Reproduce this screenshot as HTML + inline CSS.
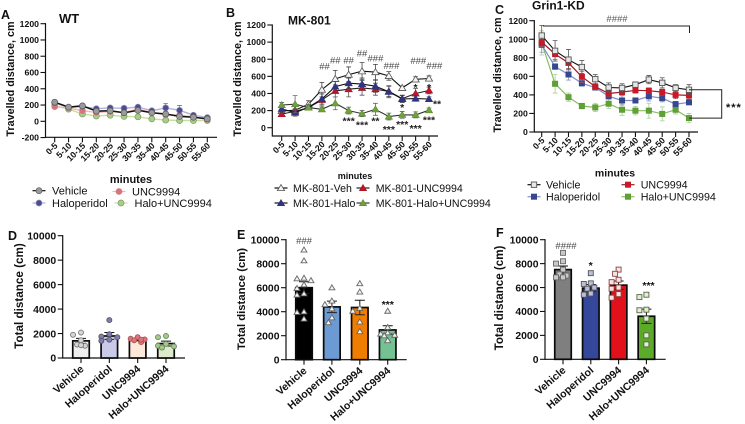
<!DOCTYPE html>
<html lang="en">
<head>
<meta charset="utf-8">
<title>Locomotor activity panels</title>
<style>
html,body{margin:0;padding:0;background:#fff;width:745px;height:424px;overflow:hidden}
svg{display:block;font-family:"Liberation Sans",sans-serif;filter:blur(.3px)}
text{fill:#111}
</style>
</head>
<body>
<svg id="fig" width="745" height="424" viewBox="0 0 745 424" xmlns="http://www.w3.org/2000/svg">
  <rect width="745" height="424" fill="#fff"/>
  <text x="1" y="19" font-size="12.5" font-weight="700">A</text>
  <text x="226" y="17" font-size="12.5" font-weight="700">B</text>
  <text x="495" y="14" font-size="12.5" font-weight="700">C</text>
  <text x="8" y="240" font-size="12.5" font-weight="700">D</text>
  <text x="237" y="239" font-size="12.5" font-weight="700">E</text>
  <text x="496" y="237" font-size="12.5" font-weight="700">F</text>
  <text x="59" y="23" font-size="13" font-weight="700">WT</text>
  <text x="288" y="24.5" font-size="12" font-weight="700">MK-801</text>
  <text x="532" y="9.5" font-size="12" font-weight="700">Grin1-KD</text>
  <text x="131" y="183" font-size="11" font-weight="700" text-anchor="middle">minutes</text>
  <text x="355" y="179" font-size="9" font-weight="700" text-anchor="middle">minutes</text>
  <text x="615" y="176.5" font-size="10.5" font-weight="700" text-anchor="middle">minutes</text>
  <text transform="translate(14 79) rotate(-90)" font-size="10.8" font-weight="700" text-anchor="middle">Travelled distance, cm</text>
  <text transform="translate(241 79) rotate(-90)" font-size="10.8" font-weight="700" text-anchor="middle">Travelled distance, cm</text>
  <text transform="translate(501 75) rotate(-90)" font-size="10.8" font-weight="700" text-anchor="middle">Travelled distance, cm</text>
  <text transform="translate(23 296) rotate(-90)" font-size="11.7" font-weight="700" text-anchor="middle">Total distance (cm)</text>
  <text transform="translate(245 299) rotate(-90)" font-size="11.3" font-weight="700" text-anchor="middle">Total distance (cm)</text>
  <text transform="translate(503 298) rotate(-90)" font-size="11.6" font-weight="700" text-anchor="middle">Total distance (cm)</text>
  <path d="M543 26H689.5V33" fill="none" stroke="#222" stroke-width="1"/>
  <text x="617" y="22" font-size="9.5" text-anchor="middle" style="fill:#555">####</text>
  <text x="726" y="111" font-size="11" font-weight="700" letter-spacing="1">***</text>
</svg>
<script>
const timeBins = ['0-5','5-10','10-15','15-20','20-25','25-30','30-35','35-40','40-45','45-50','50-55','55-60'];
const lineTicks = [1200,1000,800,600,400,200,0];
const lineTicksA = [1200,1000,800,600,400,200,0,-200];
const barTicks = [10000,8000,6000,4000,2000,0];
const barGroups = ['Vehicle','Haloperidol','UNC9994','Halo+UNC9994'];

const wtVehicle = [235,175,190,125,130,105,135,105,90,60,50,30];
const wtHalo = [225,170,180,155,165,160,175,130,165,135,75,45];
const wtUnc = [180,165,130,110,120,110,150,110,80,75,55,25];
const wtHaloUnc = [190,150,90,65,75,60,55,30,15,10,10,10];
const wtVehicleErr = [25,15,20,20,20,20,20,20,25,20,15,15];
const wtHaloErr = [20,15,20,20,20,25,20,20,55,60,20,15];
const wtUncErr = [20,15,20,20,20,20,20,20,20,15,15,10];
const wtHaloUncErr = [15,15,15,15,15,15,15,15,10,10,10,10];

const mkVeh = [195,205,275,445,570,620,660,650,605,465,565,575];
const mkHalo = [220,175,240,335,480,520,510,485,420,335,340,335];
const mkUnc = [160,190,235,325,430,450,465,450,425,340,400,435];
const mkHaloUnc = [265,275,235,215,285,200,165,215,130,150,150,205];
const mkVehErr = [60,50,40,85,100,90,100,90,50,20,30,30];
const mkHaloErr = [40,40,30,60,60,60,70,70,70,40,30,25];
const mkUncErr = [30,30,30,70,70,90,85,70,60,40,60,40];
const mkHaloUncErr = [30,100,30,25,75,40,35,70,40,40,35,25];

const kdVehicle = [1040,875,780,700,570,480,475,510,565,530,475,455];
const kdHalo = [940,705,620,525,480,385,340,340,385,365,300,320];
const kdUnc = [970,840,745,595,490,415,430,450,445,430,400,395];
const kdHaloUnc = [960,520,375,280,265,305,240,230,230,195,240,150];
const kdVehicleErr = [110,110,110,70,50,50,45,30,45,55,35,55];
const kdHaloErr = [80,30,60,30,25,30,50,20,50,40,30,25];
const kdUncErr = [50,60,60,60,30,30,30,30,30,30,40,40];
const kdHaloUncErr = [130,100,45,30,45,50,60,45,80,75,45,50];

const mkSigLabels = ['##','##','##','##','###','###','###','###','***','***','**','***','***','***','***','*','*','*','**'];
const mkSigCats = [3.2,4,5,6,7,8.2,10.2,11.4,5,6,7,8,9,10,11,9,10,11,11.6];
const mkSigVals = [720,790,790,870,810,725,780,725,110,60,110,10,65,20,120,265,500,500,305];

const totalWtMeans = [1400,1800,1480,1180];
const totalWtErr = [200,280,80,200];
const totalWtPts = [[2080,1900,1450,1100,1000,1050],[3100,1950,1750,1700,1500,1400],[1700,1580,1520,1450,1300,1500],[1800,1700,1150,1000,950,850]];
const totalMkMeans = [6000,4400,4350,2480];
const totalMkErr = [500,480,600,350];
const totalMkPts = [[9150,8250,6800,6750,6600,6250,5950,5500,5400,4000,3950,3400],[6000,4900,4600,4250,3500,3100],[6350,5650,4300,4050,3150,2350],[4050,2700,2250,2150,2050,2000,1600]];
const totalKdMeans = [7500,5950,6200,3600];
const totalKdErr = [300,300,350,600];
const totalKdPts = [[8900,8200,8000,7500,7100,7000,6850,6850],[7200,6350,6300,6000,5900,5500,5400],[7500,7150,6650,6450,6000,5900,5450,5150],[5400,5200,4150,4100,3400,2000,1250]];

const wtLegend = ['Vehicle','Haloperidol','UNC9994','Halo+UNC9994'];
const mkLegend = ['MK-801-Veh','MK-801-Halo','MK-801-UNC9994','MK-801-Halo+UNC9994'];

const NS = 'http://www.w3.org/2000/svg';
const fig = document.getElementById('fig');
function mk(tag, attrs, parent) {
  const e = document.createElementNS(NS, tag);
  for (const k in attrs) e.setAttribute(k, attrs[k]);
  (parent || fig).appendChild(e);
  return e;
}
function drawMarker(shape, x, y, size, fill, stroke, sw) {
  let m;
  if (shape === 'circle') {
    m = mk('circle', {cx:x, cy:y, r:size, fill:fill, stroke:stroke, 'stroke-width':sw});
  } else if (shape === 'square') {
    m = mk('rect', {x:x-size, y:y-size, width:size*2, height:size*2, fill:fill, stroke:stroke, 'stroke-width':sw});
  } else {
    m = mk('path', {d:`M${x} ${y-size*1.05}L${x+size*1.1} ${y+size*.8}H${x-size*1.1}Z`, fill:fill, stroke:stroke, 'stroke-width':sw});
  }
  
  
  return m;
}
function drawAxes(g, ticks, fmtSize) {
  const yAxis = mk('line', {x1:g.axisX, x2:g.axisX, y1:g.sy(ticks[0])-.6, y2:g.axisY+.6, stroke:'#111', 'stroke-width':1.2});
  
  
  const xAxis = mk('line', {x1:g.axisX, x2:g.endX, y1:g.axisY, y2:g.axisY, stroke:'#111', 'stroke-width':1.2});
  
  
  ticks.forEach(t => {
    const y = g.sy(t);
    const tick = mk('line', {x1:g.axisX-5, x2:g.axisX, y1:y, y2:y, stroke:'#111', 'stroke-width':1.1});
    
    
    const lab = mk('text', {x:g.axisX-6.5, y:y+fmtSize*.36, 'font-size':fmtSize, 'font-weight':700, 'text-anchor':'end'});
    lab.textContent = t;
    
    
  });
}
function drawXLabels(g, labels, cx, size, angle, dx, dy) {
  labels.forEach((l, i) => {
    const x = cx(i);
    const tick = mk('line', {x1:x, x2:x, y1:g.axisY, y2:g.axisY+5, stroke:'#111', 'stroke-width':1.1});
    
    
    const lab = mk('text', {transform:`translate(${x+dx} ${g.axisY+dy}) rotate(${angle})`, 'font-size':size, 'font-weight':700, 'text-anchor':'end'});
    lab.textContent = l;
    
    
  });
}
function drawSeries(g, s, cx) {
  const pts = s.values.map((v, i) => `${cx(i).toFixed(1)},${g.sy(v).toFixed(1)}`).join(' ');
  s.values.forEach((v, i) => {
    const x = cx(i), hi = g.sy(v + s.err[i]), lo = g.sy(v - s.err[i]);
    const eb = mk('path', {d:`M${x-2.4} ${hi}H${x+2.4}M${x} ${hi}V${lo}M${x-2.4} ${lo}H${x+2.4}`, fill:'none', stroke:s.errColor, 'stroke-width':.8});
    
    
  });
  const line = mk('polyline', {points:pts, fill:'none', stroke:s.lineColor, 'stroke-width':s.lineW});
  
  
  s.values.forEach((v, i) => drawMarker(s.shape, cx(i), g.sy(v), s.size, s.fill, s.stroke, s.sw));
}
function drawLegendEntry(s, label, x, tx, y, size) {
  const seg = mk('line', {x1:x-6.5, x2:x+6.5, y1:y, y2:y, stroke:s.lineColor, 'stroke-width':1.2});
  
  
  drawMarker(s.shape, x, y, s.size, s.fill, s.stroke, s.sw);
  const t = mk('text', {x:tx, y:y+size*.36, 'font-size':size});
  t.textContent = label;
  
  
}
function linearGeom(axisX, endX, yZero, yTop, vTop, axisY, first, last) {
  return {axisX, endX, axisY, sy: v => yZero - v*(yZero-yTop)/vTop, first, last};
}
function linePanel(g, ticks, series, size) {
  const cx = i => g.first + i*(g.last-g.first)/(timeBins.length-1);
  drawAxes(g, ticks, size);
  drawXLabels(g, timeBins, cx, size, -45, 3.5, 9);
  series.forEach(s => drawSeries(g, s, cx));
  return cx;
}
function style(values, err, shape, size, fill, stroke, lineColor, errColor, lineW, sw) {
  return {values, err, shape, size, fill, stroke, lineColor, errColor, lineW, sw};
}

/* Panel A */
const gA = linearGeom(45.5,217,121.3,23.7,1200,137.3,54.7,207.3);
const aVeh = style(wtVehicle,wtVehicleErr,'circle',3,'#9a9a9c','#555','#111','#555',1.5,.7);
const aHalo = style(wtHalo,wtHaloErr,'circle',3,'#4d4c8e','#8d8bb8','#b4b0dc','#7673a8',1.4,.7);
const aUnc = style(wtUnc,wtUncErr,'circle',3,'#d9727a','#c88','#f2b6ae','#d99',1.4,.7);
const aHU = style(wtHaloUnc,wtHaloUncErr,'circle',3,'#a9cc8b','#7d9a60','#c6df9c','#a5c58a',1.4,.7);
linePanel(gA, lineTicksA, [aHU,aUnc,aHalo,aVeh], 8.7);
drawLegendEntry(aVeh, wtLegend[0], 39, 52, 190.7, 11);
drawLegendEntry(aHalo, wtLegend[1], 39, 52, 203, 11);
drawLegendEntry(aUnc, wtLegend[2], 119, 132, 191.5, 11);
drawLegendEntry(aHU, wtLegend[3], 121, 134.5, 203, 11);

/* Panel B */
const gB = linearGeom(272.3,438,127.7,25,1200,136,281.7,429);
const bVeh = style(mkVeh,mkVehErr,'tri',3.3,'#f4f4f4','#555','#111','#444',1.1,.8);
const bHalo = style(mkHalo,mkHaloErr,'tri',3.3,'#2f3483','#2f3483','#111','#444',1.1,.6);
const bUnc = style(mkUnc,mkUncErr,'tri',3.3,'#c3142a','#a01525','#222','#555',1.1,.6);
const bHU = style(mkHaloUnc,mkHaloUncErr,'tri',3.3,'#70a23c','#5d8a30','#333','#666',1.1,.6);
const cxB = linePanel(gB, lineTicks, [bVeh,bUnc,bHalo,bHU], 8.7);
mkSigLabels.forEach((l, i) => {
  const isHash = l[0] === '#';
  const t = mk('text', {x:cxB(mkSigCats[i]), y:gB.sy(mkSigVals[i]) + (isHash ? 3.2 : 6), 'font-size':isHash ? 9.5 : 10.5, 'font-weight':isHash ? 400 : 700, 'text-anchor':'middle', style:isHash ? 'fill:#444' : 'fill:#222'});
  t.textContent = l;
  
  
});
drawLegendEntry(bVeh, mkLegend[0], 281, 293, 188, 10.6);
drawLegendEntry(bHalo, mkLegend[1], 281, 293, 203, 10.6);
drawLegendEntry(bUnc, mkLegend[2], 363, 375.7, 188, 10.6);
drawLegendEntry(bHU, mkLegend[3], 363, 375.7, 203, 10.6);

/* Panel C */
const gC = linearGeom(534.3,698,132,20.7,1200,132,541.7,689);
const cVeh = style(kdVehicle,kdVehicleErr,'square',2.7,'#e6e6e6','#555','#111','#555',1.1,.9);
const cHalo = style(kdHalo,kdHaloErr,'square',2.7,'#36478f','#36478f','#7f8fc6','#8a96c4',1.2,.6);
const cUnc = style(kdUnc,kdUncErr,'square',2.7,'#cf1526','#b5222c','#a11a26','#a55',1.2,.6);
const cHU = style(kdHaloUnc,kdHaloUncErr,'square',2.7,'#5fa234','#5c9435','#86bd62','#a6cf94',1.2,.6);
const cxC = linePanel(gC, lineTicks, [cHU,cHalo,cUnc,cVeh], 8.7);
const bracket = mk('path', {d:`M${cxC(11)} ${gC.sy(kdVehicle[11])}H721.7V${gC.sy(kdHaloUnc[11])}H${cxC(11)}`, fill:'none', stroke:'#222', 'stroke-width':1});


drawLegendEntry(cVeh, wtLegend[0], 534, 546, 184.7, 10.7);
drawLegendEntry(cHalo, wtLegend[1], 534, 546, 196.7, 10.7);
drawLegendEntry(cUnc, wtLegend[2], 628, 640.7, 184.7, 10.7);
drawLegendEntry(cHU, wtLegend[3], 628, 640.7, 196.7, 10.7);

/* Bar panels */
function swarm(values, sy, spacing) {
  const placed = [];
  const steps = [0,-.5,.5,-1,1];
  const minGap = spacing*.72;
  return values.map(v => {
    const y = sy(v);
    let best = null, bestGap = -1;
    for (const c of steps) {
      const x = c*spacing;
      const gap = placed.reduce((acc, p) => Math.min(acc, Math.hypot(p.x-x, p.y-y)), Infinity);
      if (gap > bestGap) { best = x; bestGap = gap; }
      if (gap >= minGap) { best = x; break; }
    }
    const pos = {x:best, y};
    placed.push(pos);
    return pos;
  });
}
function barPanel(g, means, errs, pts, centers, fills, ptStyle, tickSize, labelSize) {
  const cx = i => centers[0] + i*(centers[1]-centers[0]);
  drawAxes(g, barTicks, tickSize);
  drawXLabels(g, barGroups, cx, labelSize, -41, 3.5, 12);
  means.forEach((m, i) => {
    const x = cx(i), w = 16.5, top = g.sy(m);
    const bar = mk('rect', {x:x-w/2, y:top, width:w, height:g.axisY-top, fill:fills[i], stroke:'#0a0a0a', 'stroke-width':1.7});
    
    
    const hi = g.sy(m+errs[i]);
    const eb = mk('path', {d:`M${x-5} ${hi}H${x+5}M${x} ${hi}V${top}`, fill:'none', stroke:'#111', 'stroke-width':1});
    
    
    const lo = g.sy(m-errs[i]);
    const ebLow = mk('path', {d:`M${x-5} ${lo}H${x+5}M${x} ${lo}V${top}`, fill:'none', stroke:'#222', 'stroke-width':1});
    
    
  });
  pts.forEach((vals, i) => {
    const st = ptStyle[i];
    swarm(vals, g.sy, st.spacing).forEach(p => drawMarker(st.shape, cx(i)+p.x, p.y, st.size, st.fill, st.stroke, .9));
  });
}
const gD = linearGeom(62.7,185,358,235.7,10000,358,0,0);
barPanel(gD, totalWtMeans, totalWtErr, totalWtPts, [81,109.33],
  ['#efefef','#c9c9e8','#fde9d9','#dcebcb'],
  [{shape:'circle',size:2.5,fill:'#d6d6d6',stroke:'#777',spacing:8},
   {shape:'circle',size:2.5,fill:'#7f7eb4',stroke:'#555',spacing:8},
   {shape:'circle',size:2.5,fill:'#e0727a',stroke:'#a55',spacing:7},
   {shape:'circle',size:2.5,fill:'#a8c884',stroke:'#686',spacing:8}], 10.4, 10.6);

const gE = linearGeom(286,406.7,359.7,239.7,10000,359.7,0,0);
const triWhite = {shape:'tri',size:2.7,fill:'#f4f4f4',stroke:'#666',spacing:7};
barPanel(gE, totalMkMeans, totalMkErr, totalMkPts, [304,331.9],
  ['#000','#6c9ad2','#ef7d00','#74c193'],
  [triWhite,triWhite,triWhite,triWhite], 10.4, 10.6);

const gF = linearGeom(545,665.7,359.3,239.7,10000,359.3,0,0);
barPanel(gF, totalKdMeans, totalKdErr, totalKdPts, [563,590.8],
  ['#7f7f7f','#34479a','#e2101a','#5cab28'],
  [{shape:'square',size:2.5,fill:'#c9c9c9',stroke:'#666',spacing:7},
   {shape:'square',size:2.5,fill:'#b9bedd',stroke:'#555',spacing:7},
   {shape:'square',size:2.5,fill:'#fbe4e0',stroke:'#844',spacing:7},
   {shape:'square',size:2.5,fill:'#e3efd4',stroke:'#564',spacing:7}], 10.4, 10.6);

const ePct = mk('text', {x:304, y:244, 'font-size':9.5, 'text-anchor':'middle', style:'fill:#444'});
ePct.textContent = '###';


const eStar = mk('text', {x:387.7, y:308, 'font-size':10.5, 'font-weight':700, 'text-anchor':'middle'});
eStar.textContent = '***';


const fHash = mk('text', {x:566, y:249, 'font-size':9.5, 'text-anchor':'middle', style:'fill:#444'});
fHash.textContent = '####';


const fStar1 = mk('text', {x:590.7, y:269, 'font-size':10.5, 'font-weight':700, 'text-anchor':'middle'});
fStar1.textContent = '*';


const fStar2 = mk('text', {x:648.5, y:289, 'font-size':10.5, 'font-weight':700, 'text-anchor':'middle'});
fStar2.textContent = '***';


</script>
</body>
</html>
